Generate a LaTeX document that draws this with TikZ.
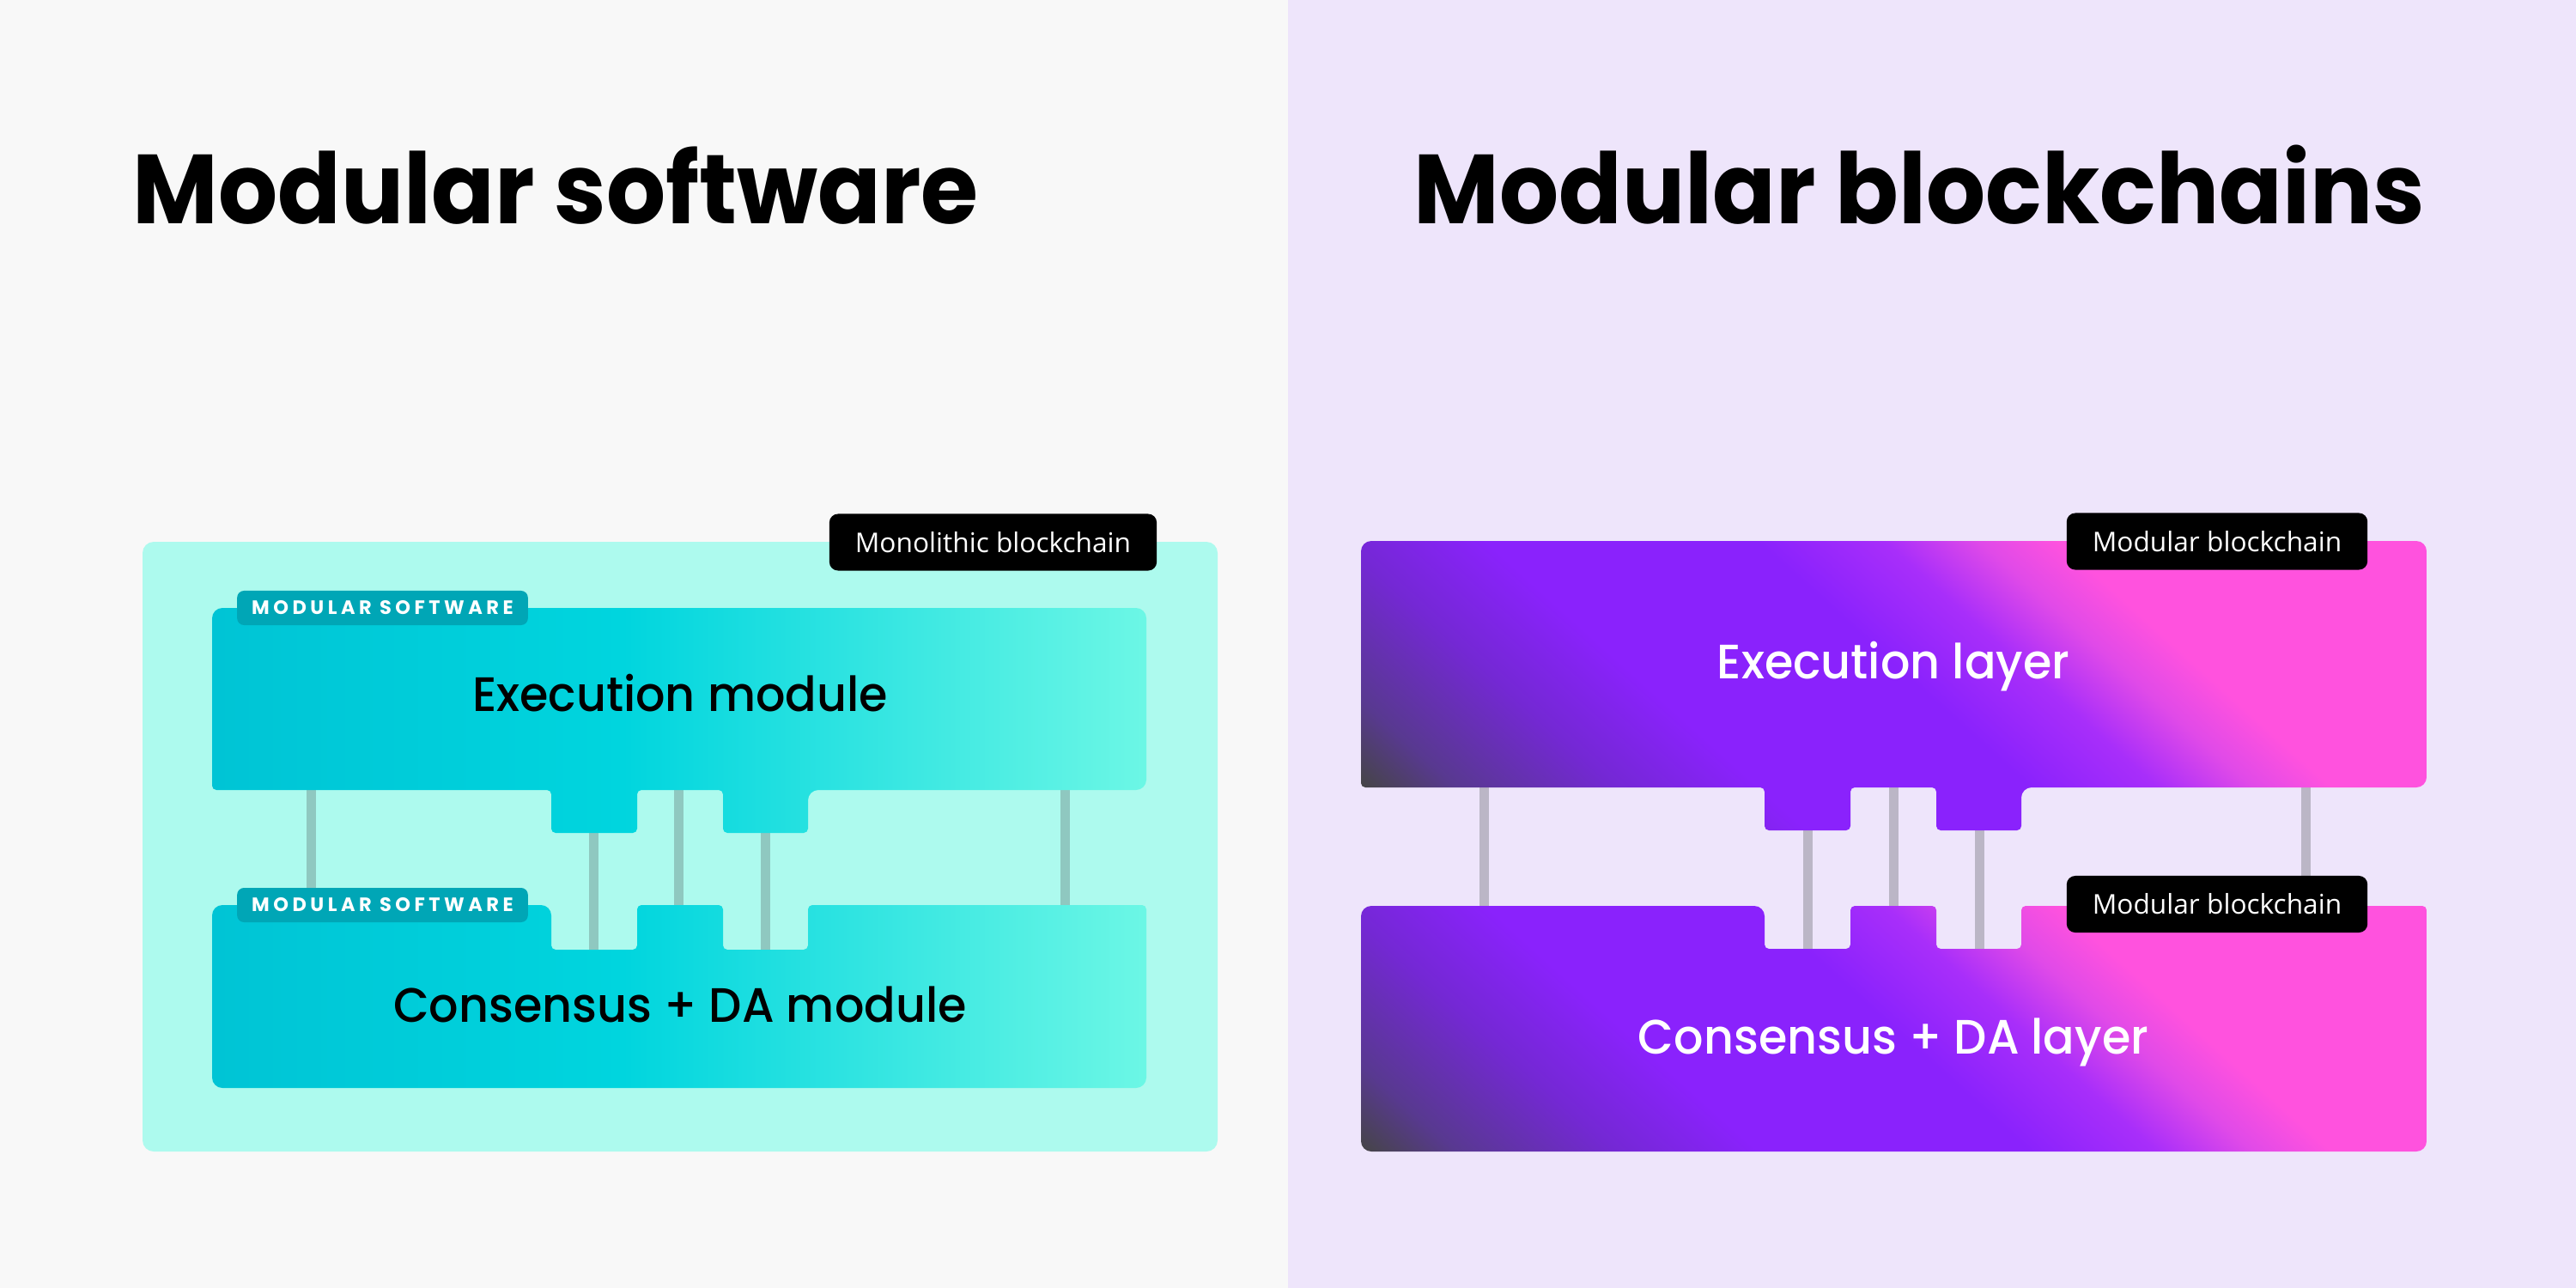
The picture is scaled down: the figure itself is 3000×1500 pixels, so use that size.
\documentclass[tikz,border=0pt]{standalone}
\usepackage{fontspec}
\setmainfont{Poppins}
\newfontfamily\headfont[FakeStretch=0.95]{Poppins}
\newfontfamily\medfont[FakeStretch=0.96]{Poppins Medium}
\newfontfamily\tagfont{Open Sans}
\newfontfamily\capsfont[LetterSpace=20]{Poppins}
\usetikzlibrary{calc,positioning}

% Colours
\definecolor{bgleft}{HTML}{F8F8F8}
\definecolor{bgright}{HTML}{EEE5FB}
\definecolor{aqua}{HTML}{ADFAEE}
\definecolor{cyanA}{HTML}{00C4D5}
\definecolor{cyanB}{HTML}{00D5DE}
\definecolor{cyanC}{HTML}{6CF7E5}
\definecolor{tealtag}{HTML}{00A6B6}
\definecolor{linkcyan}{HTML}{8FC8C0}
\definecolor{linkgray}{HTML}{BBB6C6}
\definecolor{darkgrey}{HTML}{454545}
\definecolor{vioA}{HTML}{583990}
\definecolor{vioB}{HTML}{7428D4}
\definecolor{vio}{HTML}{8A22FC}
\definecolor{magA}{HTML}{A82EFA}
\definecolor{magB}{HTML}{E04AE8}
\definecolor{pinky}{HTML}{FF52DE}

\pgfdeclarehorizontalshading{cyanramp}{100bp}{color(0bp)=(cyanA); color(25bp)=(cyanA);
  color(47bp)=(cyanB); color(75bp)=(cyanC); color(100bp)=(cyanC)}
\pgfdeclarehorizontalshading{purpink}{100bp}{color(0bp)=(darkgrey); color(29bp)=(darkgrey);
  color(32bp)=(vioA); color(37bp)=(vioB); color(41.5bp)=(vio); color(50bp)=(vio);
  color(54bp)=(magA); color(57bp)=(magB); color(59.5bp)=(pinky); color(100bp)=(pinky)}

\tikzset{
  headline/.style = {anchor=base west, inner sep=0pt,
                     font=\headfont\fontsize{32.5}{36}\selectfont\bfseries},
  modtext/.style  = {anchor=base, inner sep=0pt, font=\medfont\fontsize{16}{19}\selectfont},
  chaintag/.style = {fill=black, text=white, rounded corners=1mm,
                     minimum height=0.66cm, inner xsep=0.3cm, inner ysep=0pt,
                     font=\tagfont\fontsize{9}{11}\selectfont},
  softtag/.style  = {fill=tealtag, text=white, rounded corners=0.8mm,
                     minimum height=0.4cm, inner xsep=0.17cm, inner ysep=0pt,
                     font=\capsfont\bfseries\fontsize{6.4}{8}\selectfont},
  link/.style     = {line width=0.11cm},
  big/.style      = {rounded corners=1.2mm},
  small/.style    = {rounded corners=0.5mm}
}

\begin{document}
\begin{tikzpicture}[x=0.01cm, y=-0.01cm]
	\useasboundingbox (0,0) rectangle (3000,1500);

	% Backgrounds
	\fill[bgleft]  (0,0)    rectangle (1500,1500);
	\fill[bgright] (1500,0) rectangle (3000,1500);

	% Titles
	\node[headline] (lefttitle)  at (154,261)  {Modular software};
	\node[headline] (righttitle) at (1646,261) {Modular blockchains};

	% ---------- Left: monolithic blockchain ----------
	\fill[aqua, rounded corners=1.3mm] (166,631) rectangle (1418,1341);

	% Links
	\foreach \i/\x/\ya/\yb in {1/362/918/1056, 2/691/968/1108, 3/790/918/1056,
	                           4/891/968/1108, 5/1240/918/1056}{
		\coordinate (ltop\i) at (\x,\ya);
		\coordinate (lbot\i) at (\x,\yb);
		\draw[link, linkcyan] (ltop\i) -- (lbot\i);
	}

	% Execution module
	\shade[shading=cyanramp, big] (247,708) -- (1335,708) -- (1335,920) -- (941,920)
		[small] -- (941,970) -- (842,970) -- (842,920) -- (742,920) -- (742,970)
		-- (642,970) -- (642,920) -- (247,920) [big] -- cycle;
	% Consensus + DA module
	\shade[shading=cyanramp, big] (247,1267) -- (247,1054) -- (642,1054)
		[small] -- (642,1106) -- (742,1106) -- (742,1054) -- (842,1054) -- (842,1106)
		-- (941,1106) -- (941,1054) -- (1335,1054) [big] -- (1335,1267) -- cycle;

	\node[modtext] (execmod) at (792,828)  {Execution module};
	\node[modtext] (consmod) at (792,1190) {Consensus + DA module};

	\node[softtag] (softtop) at (445.5,708)  {MODULAR SOFTWARE};
	\node[softtag] (softbot) at (445.5,1054) {MODULAR SOFTWARE};
	\node[chaintag] (monotag) at (1156.5,631.5) {Monolithic blockchain};

	% ---------- Right: modular blockchain ----------
	% Links
	\foreach \i/\x/\ya/\yb in {1/1728/915/1057, 2/2105/965/1107, 3/2205/915/1057,
	                           4/2305/965/1107, 5/2685/915/1057}{
		\coordinate (rtop\i) at (\x,\ya);
		\coordinate (rbot\i) at (\x,\yb);
		\draw[link, linkgray] (rtop\i) -- (rbot\i);
	}

	% Execution layer
	\begin{scope}
		\clip[big] (1585,630) -- (2826,630) -- (2826,917) -- (2354,917)
			[small] -- (2354,967) -- (2255,967) -- (2255,917) -- (2155,917) -- (2155,967)
			-- (2055,967) -- (2055,917) -- (1585,917) [big] -- cycle;
		\shade[shading=purpink, shading angle=48] (1584,152.5) rectangle (2826,1394.5);
	\end{scope}
	% Consensus + DA layer
	\begin{scope}
		\clip[big] (1585,1341) -- (1585,1055) -- (2055,1055)
			[small] -- (2055,1105) -- (2155,1105) -- (2155,1055) -- (2255,1055) -- (2255,1105)
			-- (2354,1105) -- (2354,1055) -- (2826,1055) [big] -- (2826,1341) -- cycle;
		\shade[shading=purpink, shading angle=48] (1584,577) rectangle (2826,1819);
	\end{scope}

	\node[modtext, text=white] (execlay) at (2205,790)  {Execution layer};
	\node[modtext, text=white] (conslay) at (2205,1227) {Consensus + DA layer};

	\node[chaintag] (modtagtop) at (2582,630.5) {Modular blockchain};
	\node[chaintag] (modtagbot) at (2582,1053)  {Modular blockchain};

\end{tikzpicture}
\end{document}
